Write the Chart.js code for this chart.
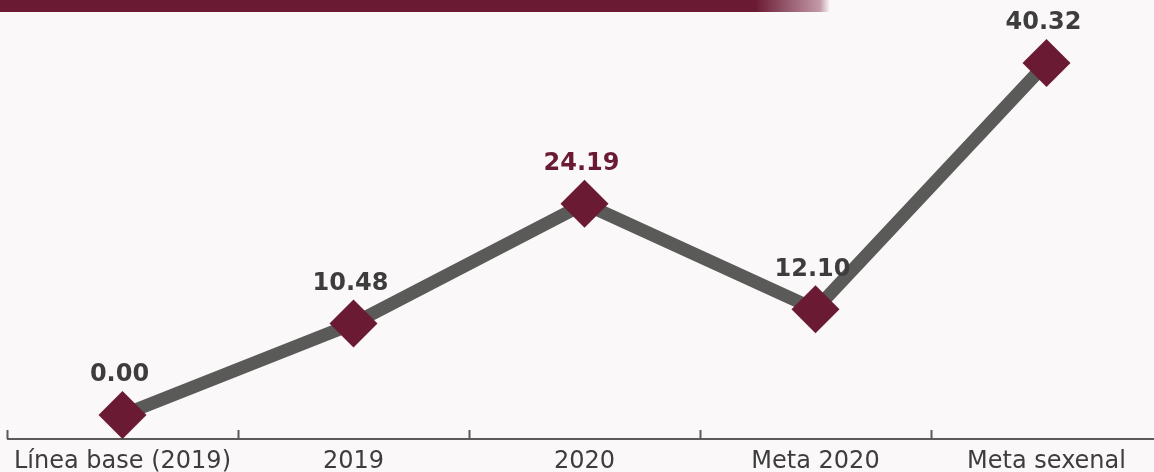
<!DOCTYPE html>
<html lang="es">
<head>
<meta charset="utf-8">
<title>Avance del indicador</title>
<script src="https://cdn.jsdelivr.net/npm/chart.js@4.4.1/dist/chart.umd.min.js"></script>
<style>
  html, body { margin: 0; padding: 0; background: #fbf8f9; overflow: hidden; }
  .wrap { position: relative; width: 1170px; height: 472px; }
  .banner {
    position: absolute; left: 0; top: 0; width: 830px; height: 12px;
    background: linear-gradient(to right, #6a1a33 0, #6a1a33 755px, #c39aa8 820px, #fbf8f9 830px);
  }
  canvas { position: absolute; left: 0; top: 0; }
</style>
</head>
<body>
<div class="wrap">
  <canvas id="chart" width="1170" height="472"></canvas>
  <div class="banner"></div>
</div>
<script>
'use strict';

// ─── Data ─────────────────────────────────────────────────────────────────────
const CATEGORIES = ['Línea base (2019)', '2019', '2020', 'Meta 2020', 'Meta sexenal'];
const VALUES     = [0.00, 10.48, 24.19, 12.10, 40.32];
const LABEL_COLORS = ['#3d3d3d', '#3d3d3d', '#6a1a33', '#3d3d3d', '#3d3d3d'];

const MAROON = '#6a1a33';
const GRAY   = '#5a5a58';
const TEXT   = '#3d3d3d';
const FONT   = "'DejaVu Sans', 'Open Sans', sans-serif";

// ─── Plugins ──────────────────────────────────────────────────────────────────
// Axis line with short upward ticks between categories
const axisTicks = {
  id: 'axisTicks',
  beforeDatasetsDraw(chart) {
    const { ctx, scales: { x }, chartArea } = chart;
    const y0 = chartArea.bottom;
    const half = (x.getPixelForValue(1) - x.getPixelForValue(0)) / 2;
    ctx.save();
    ctx.strokeStyle = GRAY;
    ctx.lineWidth = 2;
    ctx.beginPath();
    ctx.moveTo(x.left, y0);
    ctx.lineTo(x.right, y0);
    for (let i = 0; i <= CATEGORIES.length; i++) {
      const px = Math.round(x.getPixelForValue(0) - half + i * 2 * half) + 0.5;
      ctx.moveTo(px, y0);
      ctx.lineTo(px, y0 - 9);
    }
    ctx.stroke();
    ctx.restore();
  }
};

// Value labels above each marker
const valueLabels = {
  id: 'valueLabels',
  afterDatasetsDraw(chart) {
    const { ctx } = chart;
    const meta = chart.getDatasetMeta(0);
    ctx.save();
    ctx.font = `bold 24px ${FONT}`;
    ctx.textAlign = 'center';
    ctx.textBaseline = 'middle';
    meta.data.forEach((pt, i) => {
      ctx.fillStyle = LABEL_COLORS[i];
      ctx.fillText(VALUES[i].toFixed(2), pt.x - 3, pt.y - 40);
    });
    ctx.restore();
  }
};

// ─── Chart ────────────────────────────────────────────────────────────────────
new Chart(document.getElementById('chart'), {
  type: 'line',
  data: {
    labels: CATEGORIES,
    datasets: [{
      data: VALUES,
      borderColor: GRAY,
      borderWidth: 13,
      borderCapStyle: 'butt',
      tension: 0,
      pointStyle: 'rectRot',
      pointRadius: 24,
      pointHoverRadius: 24,
      pointBackgroundColor: MAROON,
      pointBorderColor: MAROON,
      pointBorderWidth: 0,
    }]
  },
  options: {
    responsive: false,
    animation: false,
    layout: { autoPadding: false, padding: { left: 7, right: 8, top: 20, bottom: 0 } },
    plugins: { legend: { display: false }, tooltip: { enabled: false } },
    scales: {
      x: {
        offset: true,
        border: { display: false },
        grid: { display: false, drawTicks: false },
        ticks: { color: TEXT, font: { family: FONT, size: 24 }, padding: 8, maxRotation: 0, autoSkip: false },
        afterFit(scale) { scale.height = 33; }
      },
      y: {
        display: false,
        min: -2.75,
        max: 45.25
      }
    }
  },
  plugins: [axisTicks, valueLabels]
});
</script>
</body>
</html>
